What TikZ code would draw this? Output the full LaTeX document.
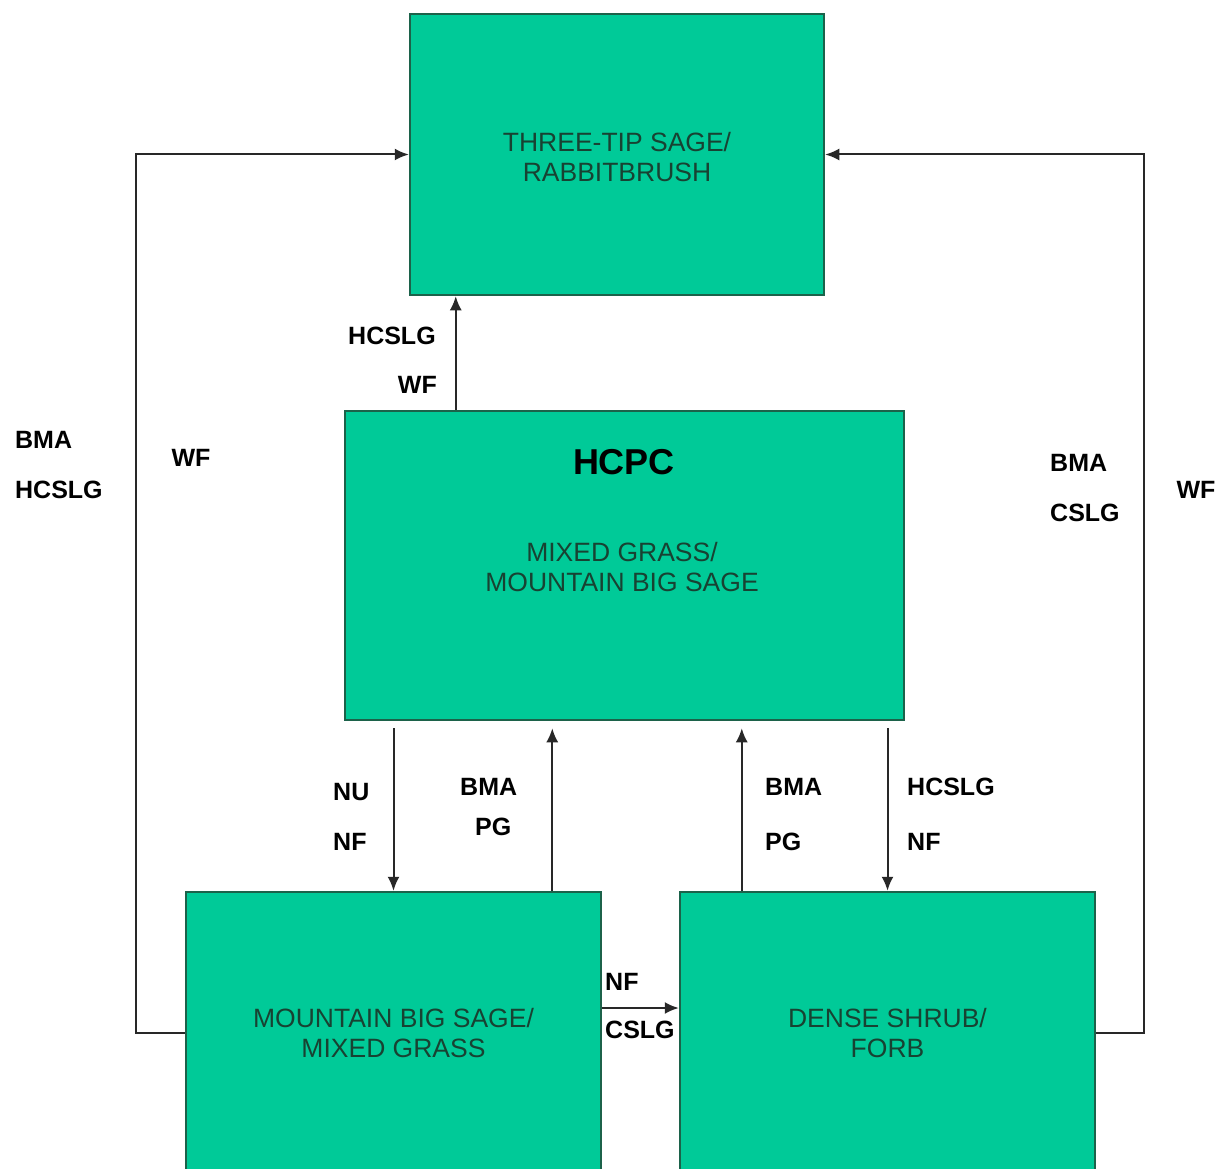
\documentclass[tikz,border=0pt]{standalone}
\usepackage{fontspec}
\setmainfont{Liberation Sans}
\usetikzlibrary{positioning,arrows.meta}

\definecolor{stategreen}{RGB}{0,202,152}
\definecolor{edgegreen}{RGB}{28,98,74}
\definecolor{textgreen}{RGB}{24,66,50}
\definecolor{linegray}{RGB}{40,40,40}

\tikzset{
    statebox/.style={draw=edgegreen, line width=2.5pt, fill=stategreen, inner sep=0pt},
    boxtext/.style={text=textgreen, font=\fontsize{26.5}{30}\selectfont, align=center},
    lbl/.style={font=\bfseries\fontsize{25}{28}\selectfont, inner sep=0pt},
    arr/.style={-{Latex[length=14pt,width=12pt]}, line width=2pt, draw=linegray},
}

\begin{document}
\begin{tikzpicture}[x=1pt, y=-1pt]
    \useasboundingbox[fill=white] (0,0) rectangle (1221,1169);

    % Stati (rettangoli)
    \node[statebox, minimum width=414, minimum height=281] (top) at (617,154.5) {};
    \node[statebox, minimum width=559, minimum height=309] (hcpc) at (624.5,565.5) {};
    \node[statebox, minimum width=415, minimum height=282] (bl) at (393.5,1033) {};
    \node[statebox, minimum width=415, minimum height=282] (br) at (887.5,1033) {};

    % Testi dentro i rettangoli
    \node[boxtext] (toptxt) at (617,157) {THREE-TIP SAGE/\\RABBITBRUSH};
    \node[font=\bfseries\fontsize{36}{40}\selectfont] (hcpctitle) at (624,462) {HCPC};
    \node[boxtext] (hcpctxt) at (622,567) {MIXED GRASS/\\MOUNTAIN BIG SAGE};
    \node[boxtext] (bltxt) at (bl) {MOUNTAIN BIG SAGE/\\MIXED GRASS};
    \node[boxtext] (brtxt) at (br) {DENSE SHRUB/\\FORB};

    % Transizioni esterne verso lo stato in alto
    \draw[arr] (bl.west) -- ++(-49,0) |- (top.west);
    \draw[arr] (br.east) -- ++(48,0) |- (top.east);

    % HCPC -> stato in alto
    \draw[arr] ([xshift=112]hcpc.north west) -- ([xshift=112]hcpc.north west |- top.south);

    % HCPC <-> stati in basso
    \draw[arr, shorten <=7pt] (hcpc.south -| bl.north) -- (bl.north);
    \draw[arr, shorten >=7pt] ([xshift=-50]bl.north east) -- ([xshift=-50]bl.north east |- hcpc.south);
    \draw[arr, shorten >=7pt] ([xshift=63]br.north west) -- ([xshift=63]br.north west |- hcpc.south);
    \draw[arr, shorten <=7pt] (hcpc.south -| br.north) -- (br.north);

    % Stato in basso a sinistra -> in basso a destra
    \draw[arr] ([yshift=25pt]bl.east) -- ([yshift=25pt]br.west);

    % Etichette
    \node[lbl, anchor=west] (l1) at (15,440) {BMA};
    \node[lbl, anchor=west] (l2) at (15,490) {HCSLG};
    \node[lbl] (l3) at (191,458) {WF};
    \node[lbl, anchor=west] (l4) at (348,336) {HCSLG};
    \node[lbl, anchor=east] (l5) at (437,385) {WF};
    \node[lbl, anchor=west] (l6) at (1050,463) {BMA};
    \node[lbl, anchor=west] (l7) at (1050,513) {CSLG};
    \node[lbl] (l8) at (1196,490) {WF};
    \node[lbl, anchor=west] (l9) at (333,792) {NU};
    \node[lbl, anchor=west] (l10) at (333,842) {NF};
    \node[lbl, anchor=west] (l11) at (460,787) {BMA};
    \node[lbl, anchor=west] (l12) at (475,827) {PG};
    \node[lbl, anchor=west] (l13) at (765,787) {BMA};
    \node[lbl, anchor=west] (l14) at (765,842) {PG};
    \node[lbl, anchor=west] (l15) at (907,787) {HCSLG};
    \node[lbl, anchor=west] (l16) at (907,842) {NF};
    \node[lbl, anchor=west] (l17) at (605,982) {NF};
    \node[lbl, anchor=west] (l18) at (605,1030) {CSLG};
\end{tikzpicture}
\end{document}
